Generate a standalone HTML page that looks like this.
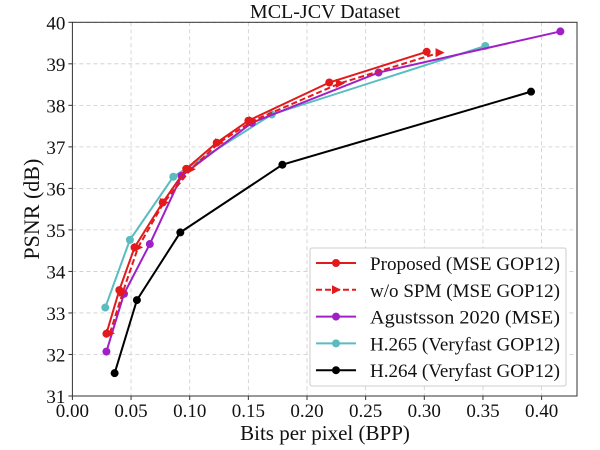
<!DOCTYPE html>
<html><head><meta charset="utf-8"><style>
body{margin:0;background:#fff}
svg{display:block;font-family:"Liberation Serif",serif}
</style></head><body>
<svg id="chart" width="600" height="450" viewBox="0 0 600 450"></svg>
<script>
const xTicks=[0,0.05,0.1,0.15,0.2,0.25,0.3,0.35,0.4];
const xTickLabels=["0.00","0.05","0.10","0.15","0.20","0.25","0.30","0.35","0.40"];
const yTicks=[31,32,33,34,35,36,37,38,39,40];
const seriesNames=["Proposed (MSE GOP12)","w/o SPM (MSE GOP12)","Agustsson 2020 (MSE)","H.265 (Veryfast GOP12)","H.264 (Veryfast GOP12)"];
const proposedX=[0.029,0.040,0.053,0.077,0.097,0.123,0.150,0.219,0.302];
const proposedY=[32.5,33.55,34.58,35.66,36.47,37.1,37.63,38.55,39.29];
const wospmX=[0.032,0.043,0.056,0.078,0.101,0.125,0.154,0.228,0.313];
const wospmY=[32.51,33.5,34.58,35.66,36.46,37.1,37.63,38.53,39.27];
const agX=[0.029,0.044,0.066,0.093,0.153,0.261,0.416];
const agY=[32.07,33.46,34.66,36.3,37.58,38.79,39.78];
const h265X=[0.028,0.049,0.086,0.170,0.352];
const h265Y=[33.13,34.76,36.28,37.78,39.43];
const h264X=[0.036,0.055,0.092,0.179,0.391];
const h264Y=[31.55,33.31,34.94,36.57,38.33];

const L=72.4,R=577,T=22.3,B=396;
const x0=72.4,xPer=(541.6-72.4)/0.4;
const sx=v=>x0+v*xPer;
const sy=v=>B-(v-31)*(B-T)/9;
const NS="http://www.w3.org/2000/svg";
const svg=document.getElementById('chart');
function mk(tag,attrs,parent){const e=document.createElementNS(NS,tag);for(const k in attrs)e.setAttribute(k,attrs[k]);(parent||svg).appendChild(e);return e;}

const grid=mk('g',{});


xTicks.forEach(v=>mk('line',{x1:sx(v),x2:sx(v),y1:T,y2:B,stroke:'#ccc','stroke-width':0.8,'stroke-dasharray':'4,3'},grid));
yTicks.forEach(v=>mk('line',{x1:L,x2:R,y1:sy(v),y2:sy(v),stroke:'#ccc','stroke-width':0.8,'stroke-dasharray':'4,3'},grid));

const xa=mk('g',{});


xTicks.forEach((v,i)=>{mk('line',{x1:sx(v),x2:sx(v),y1:B,y2:B+4,stroke:'#333'},xa);
const t=mk('text',{x:sx(v),y:B+21,'text-anchor':'middle','font-size':19,fill:'#111'},xa);t.textContent=xTickLabels[i];});
const ya=mk('g',{});


yTicks.forEach(v=>{mk('line',{x1:L-4,x2:L,y1:sy(v),y2:sy(v),stroke:'#333'},ya);
const t=mk('text',{x:L-7,y:sy(v)+7,'text-anchor':'end','font-size':19,fill:'#111'},ya);t.textContent=v;});
mk('rect',{x:L,y:T,width:R-L,height:B-T,fill:'none',stroke:'#333','stroke-width':1});

const title=mk('text',{x:325,y:18,'text-anchor':'middle','font-size':20,fill:'#111'});


title.textContent='MCL-JCV Dataset';
const xt=mk('text',{x:325,y:440,'text-anchor':'middle','font-size':21,fill:'#111'});


xt.textContent='Bits per pixel (BPP)';
const yt=mk('text',{x:0,y:0,'text-anchor':'middle','font-size':22,fill:'#111',transform:`translate(39,${(T+B)/2}) rotate(-90)`});


yt.textContent='PSNR (dB)';

const series=[
 {xs:h264X,ys:h264Y,c:'#000',m:'circle',d:null,name:'series-h264'},
 {xs:h265X,ys:h265Y,c:'#5bbcc0',m:'circle',d:null,name:'series-h265'},
 {xs:agX,ys:agY,c:'#a020c8',m:'circle',d:null,name:'series-agustsson'},
 {xs:wospmX,ys:wospmY,c:'#e31a1c',m:'tri',d:'6,3',name:'series-wo-spm'},
 {xs:proposedX,ys:proposedY,c:'#e31a1c',m:'circle',d:null,name:'series-proposed'}];
function marker(g,x,y,s){if(s.m==='circle')mk('circle',{cx:x,cy:y,r:4,fill:s.c},g);
 else mk('polygon',{points:`${x+5},${y} ${x-4},${y-4.5} ${x-4},${y+4.5}`,fill:s.c},g);}
series.forEach(s=>{const g=mk('g',{});
 
 
 const pts=s.xs.map((v,i)=>sx(v)+','+sy(s.ys[i])).join(' ');
 const pl=mk('polyline',{points:pts,fill:'none',stroke:s.c,'stroke-width':2},g);
 if(s.d)pl.setAttribute('stroke-dasharray',s.d);
 s.xs.forEach((v,i)=>marker(g,sx(v),sy(s.ys[i]),s));});

const lg=mk('g',{});


mk('rect',{x:310,y:248,width:256,height:138,fill:'#fff',stroke:'#ccc',rx:2},lg);
const legStyle=[series[4],series[3],series[2],series[1],series[0]];
seriesNames.forEach((n,i)=>{const y=263+i*26.8;const s=legStyle[i];
 const e=mk('g',{},lg);
 
 
 const l=mk('line',{x1:316,x2:356,y1:y,y2:y,stroke:s.c,'stroke-width':2},e);
 if(s.d)l.setAttribute('stroke-dasharray',s.d);
 marker(e,336,y,s);
 const t=mk('text',{x:370,y:y+7,'font-size':19,fill:'#111',textLength:190,lengthAdjust:'spacingAndGlyphs'},e);t.textContent=n;});
</script>
</body></html>
